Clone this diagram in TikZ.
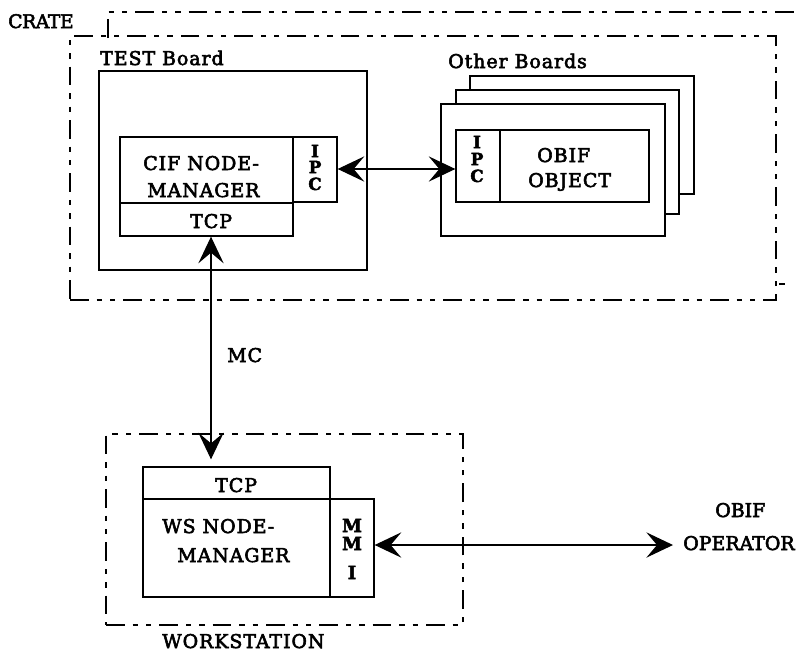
\documentclass[tikz,border=0pt]{standalone}
\usepackage{fontspec}
\setmainfont{DejaVu Serif}[LetterSpace=5,FakeBold=3]
\usetikzlibrary{arrows.meta,fit,calc}

\begin{document}
\begin{tikzpicture}[x=0.75pt,y=-0.75pt,
  >={Stealth[length=20pt,width=19pt,inset=8pt]},
  box/.style={draw,line width=1pt,inner sep=0pt},
  frame/.style={draw,line width=1.1pt,inner sep=0pt,
    dash pattern=on 14pt off 6pt on 4pt off 6pt on 4pt off 6pt},
  lbl/.style={font=\fontsize{14.2}{16}\selectfont,inner sep=0pt,anchor=base west},
  tight/.style={font=\fontsize{14.2}{16}\selectfont\addfontfeatures{LetterSpace=0}},
  small/.style={font=\fontsize{12.5}{13}\selectfont\bfseries,inner sep=0pt,anchor=base},
  mid/.style={font=\fontsize{13.5}{15}\selectfont\bfseries,inner sep=0pt,anchor=base},
  link/.style={line width=0.9pt,<->}]

\useasboundingbox (0,0) rectangle (798,653);

% crate and its enclosure
\draw[frame] (108,38) -- (108,12) -- (800,12);
\node[frame,fit={(70,36) (776,300)}] (crate) {};
\draw[line width=0.8pt] (779,284) -- (785,284);
\node[lbl,font=\fontsize{14}{16}\selectfont\addfontfeatures{LetterSpace=-2}] (cratelbl) at (8,28) {CRATE};

% TEST board
\node[lbl] (testlbl) at (100,65) {TEST Board};
\node[box,fit={(99,71) (367,270)}] (test) {};
\node[box,fit={(120,137) (293,203)}] (cif) {};
\node[box,fit={(120,203) (293,236)}] (tcpA) {};
\node[box,fit={(293,137) (337,202)}] (ipcA) {};
\node[lbl] (cif1) at (143,170) {CIF NODE-};
\node[lbl] (cif2) at (147,197) {MANAGER};
\node[lbl] (tcpAt) at (190,228) {TCP};
\node[small] (ipcA1) at (315,157) {I};
\node[small] (ipcA2) at (315,173) {P};
\node[small] (ipcA3) at (315,190) {C};

% other boards
\node[lbl] (otherlbl) at (448,68) {Other Boards};
\node[box,fill=white,fit={(470,76) (694,194)}] (ob3) {};
\node[box,fill=white,fit={(456,90) (679,214)}] (ob2) {};
\node[box,fill=white,fit={(441,104) (665,236)}] (ob1) {};
\node[box,fit={(456,130) (500,202)}] (ipcB) {};
\node[box,fit={(500,130) (649,202)}] (obj) {};
\node[small] (ipcB1) at (477,148) {I};
\node[small] (ipcB2) at (477,165) {P};
\node[small] (ipcB3) at (477,182) {C};
\node[lbl] (obj1) at (537,162) {OBIF};
\node[lbl] (obj2) at (528,187) {OBJECT};

% workstation
\node[frame,fit={(106,434) (463,625)}] (ws) {};
\node[lbl] (wslbl) at (162,648) {WORKSTATION};
\node[box,fit={(143,467) (330,499)}] (tcpB) {};
\node[box,fit={(143,499) (330,597)}] (wsnm) {};
\node[box,fit={(330,499) (374,597)}] (mmi) {};
\node[lbl] (tcpBt) at (215,492) {TCP};
\node[lbl] (ws1) at (162,533) {WS NODE-};
\node[lbl] (ws2) at (177,562) {MANAGER};
\node[mid] (mmi1) at (352,532) {M};
\node[mid] (mmi2) at (352,550) {M};
\node[mid] (mmi3) at (352,579) {I};

% operator
\node[lbl,tight] (op1) at (715,517) {OBIF};
\node[lbl,tight] (op2) at (683,550) {OPERATOR};

% connections
\coordinate (mcx) at (211,0);
\coordinate (opend) at (673,545);
\draw[link] (ipcA.east |- 0,169) -- (ipcB.west |- 0,169);
\draw[link] (tcpA.south -| mcx) -- ($(tcpB.north -| mcx)+(0,-7)$);
\node[lbl] (mc) at (227,362) {MC};
\draw[link] (mmi.east |- opend) -- (opend);
\end{tikzpicture}
\end{document}
